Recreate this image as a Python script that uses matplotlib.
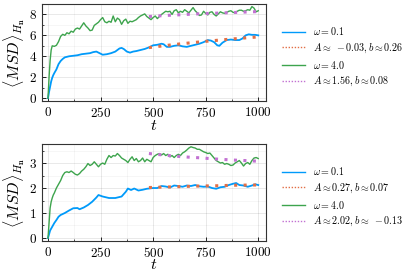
import matplotlib
matplotlib.use('agg')
import matplotlib.pyplot as plt
from matplotlib.ticker import AutoMinorLocator

plt.rcParams['font.family'] = 'serif'
plt.rcParams['font.serif'] = ['cmr10']
plt.rcParams['mathtext.fontset'] = 'cm'
plt.rcParams['axes.formatter.use_mathtext'] = True

# --- datos ---
t_verde_arriba = [0, 5, 10, 15, 20, 30, 40, 50, 60, 70, 80, 90, 100, 110, 120, 130, 140, 150,
                  160, 170, 180, 190, 200, 210, 220, 230, 240, 250, 260, 270, 280, 290, 300,
                  310, 320, 330, 340, 350, 360, 370, 380, 390, 400, 410, 420, 430, 440, 450,
                  460, 470, 480, 490, 500, 510, 520, 530, 540, 550, 560, 570, 580, 590, 600,
                  610, 620, 630, 640, 650, 660, 670, 680, 690, 700, 710, 720, 730, 740, 750,
                  760, 770, 780, 790, 800, 810, 820, 830, 840, 850, 860, 870, 880, 890, 900,
                  910, 920, 930, 940, 950, 960, 970, 980, 990, 1000]
msd_verde_arriba = [0.0, 2.0, 3.6, 4.6, 5.0, 4.95, 5.05, 5.4, 5.9, 6.1, 6.0, 6.25, 6.15, 6.4,
                    6.3, 6.6, 6.7, 6.6, 6.9, 7.2, 6.9, 6.7, 6.45, 6.5, 6.95, 7.1, 7.25, 7.5,
                    7.7, 7.3, 7.2, 7.35, 7.25, 7.85, 7.3, 7.65, 7.5, 7.05, 7.4, 7.55, 7.15,
                    7.35, 7.3, 7.4, 7.5, 7.7, 7.85, 7.95, 8.05, 7.8, 7.65, 7.5, 7.7, 7.85, 7.6,
                    7.8, 8.0, 8.15, 8.3, 8.25, 8.3, 8.0, 8.35, 8.45, 8.15, 8.3, 8.2, 8.45, 8.3,
                    8.15, 8.4, 8.65, 8.35, 8.15, 7.9, 7.95, 8.3, 8.1, 7.95, 8.2, 8.25, 8.0,
                    7.85, 8.05, 8.25, 8.15, 8.1, 8.2, 8.3, 8.35, 8.2, 8.15, 8.3, 8.4, 8.4, 8.3,
                    8.35, 8.45, 8.4, 8.75, 8.6, 8.25, 8.35]

t_azul_arriba = [0, 5, 10, 15, 20, 25, 30, 40, 50, 60, 70, 80, 90, 100, 120, 140, 160, 180,
                 200, 215, 230, 245, 260, 280, 300, 320, 340, 350, 360, 375, 390, 405, 420,
                 440, 460, 480, 500, 520, 540, 550, 565, 580, 600, 620, 640, 660, 680, 700,
                 720, 740, 760, 775, 790, 805, 815, 830, 850, 870, 890, 910, 925, 940, 955,
                 970, 985, 1000]
msd_azul_arriba = [0.0, 0.6, 1.1, 1.6, 1.95, 2.2, 2.4, 2.75, 3.25, 3.55, 3.75, 3.9, 3.95, 4.0,
                   4.05, 4.1, 4.2, 4.25, 4.3, 4.4, 4.45, 4.3, 4.15, 4.2, 4.3, 4.45, 4.75, 4.8,
                   4.7, 4.45, 4.35, 4.45, 4.5, 4.6, 4.7, 4.85, 5.05, 5.1, 5.2, 5.15, 4.9, 4.9,
                   5.0, 5.05, 4.95, 4.9, 5.0, 5.1, 5.2, 5.35, 5.55, 5.5, 5.35, 5.05, 5.0, 5.3,
                   5.55, 5.6, 5.55, 5.55, 5.7, 6.0, 6.1, 6.05, 6.05, 6.0]

t_verde_abajo = [0, 5, 10, 15, 20, 25, 30, 40, 50, 60, 70, 80, 90, 100, 110, 120, 130, 140,
                 150, 160, 170, 180, 190, 200, 210, 220, 230, 240, 250, 260, 270, 280, 290,
                 300, 310, 320, 330, 340, 350, 360, 370, 380, 390, 400, 410, 420, 430, 440,
                 450, 460, 470, 480, 490, 500, 510, 520, 530, 540, 550, 560, 570, 580, 590,
                 600, 610, 620, 630, 640, 650, 660, 670, 680, 690, 700, 710, 720, 730, 740,
                 750, 760, 770, 780, 790, 800, 810, 820, 830, 840, 850, 860, 870, 880, 890,
                 900, 910, 920, 930, 940, 950, 960, 970, 980, 990, 1000]
msd_verde_abajo = [0.0, 0.6, 1.2, 1.45, 1.6, 1.72, 1.8, 2.0, 2.15, 2.3, 2.5, 2.62, 2.65, 2.62,
                   2.68, 2.62, 2.55, 2.52, 2.58, 2.68, 2.75, 2.85, 2.98, 2.9, 2.95, 3.05, 2.95,
                   2.85, 2.95, 3.0, 2.95, 3.15, 3.3, 3.22, 3.3, 3.28, 3.38, 3.3, 3.2, 3.15,
                   3.1, 3.02, 3.15, 3.25, 3.1, 3.18, 3.05, 3.1, 3.2, 3.05, 3.15, 3.1, 3.05,
                   3.22, 3.3, 3.35, 3.38, 3.32, 3.38, 3.3, 3.35, 3.25, 3.3, 3.22, 3.3, 3.35,
                   3.3, 3.4, 3.45, 3.52, 3.6, 3.65, 3.62, 3.6, 3.55, 3.55, 3.5, 3.45, 3.42,
                   3.38, 3.4, 3.3, 3.2, 3.1, 3.05, 3.0, 3.02, 2.95, 2.98, 2.95, 2.9, 2.92, 3.0,
                   3.05, 3.1, 3.0, 2.88, 2.98, 3.02, 2.95, 3.1, 3.2, 3.22, 3.18]

t_azul_abajo = [0, 10, 20, 30, 40, 50, 60, 80, 100, 120, 140, 150, 170, 190, 210, 230, 240,
                260, 290, 320, 350, 370, 380, 395, 410, 430, 450, 470, 500, 520, 540, 560,
                580, 600, 620, 640, 660, 680, 700, 720, 740, 760, 780, 800, 820, 840, 860,
                880, 895, 910, 930, 950, 970, 985, 1000]
msd_azul_abajo = [0.0, 0.3, 0.45, 0.6, 0.72, 0.85, 0.92, 1.0, 1.1, 1.19, 1.2, 1.15, 1.22,
                  1.32, 1.45, 1.62, 1.72, 1.66, 1.6, 1.6, 1.66, 1.85, 1.98, 1.92, 1.98, 1.9,
                  1.93, 1.97, 2.0, 2.0, 2.08, 2.06, 2.02, 2.1, 2.08, 2.05, 2.1, 2.08, 2.12,
                  2.07, 2.05, 2.06, 2.0, 1.97, 2.03, 2.05, 2.12, 2.17, 2.2, 2.12, 2.1, 2.05,
                  2.1, 2.15, 2.12]

# ajustes (curvas punteadas)
t_ajuste = [480, 560, 640, 720, 800, 880, 960, 1000]
ajuste_azul_arriba = [4.83, 5.03, 5.21, 5.37, 5.52, 5.66, 5.79, 5.85]
ajuste_verde_arriba = [7.80, 7.90, 7.98, 8.06, 8.12, 8.18, 8.24, 8.27]
ajuste_azul_abajo = [2.02, 2.04, 2.06, 2.08, 2.09, 2.11, 2.12, 2.12]
ajuste_verde_abajo = [3.38, 3.31, 3.25, 3.21, 3.16, 3.12, 3.09, 3.07]

etiquetas_arriba = [r'$\omega = 0.1$', r'$A \approx\ -0.03, b \approx 0.26$',
                    r'$\omega = 4.0$', r'$A \approx 1.56, b \approx 0.08$']
etiquetas_abajo = [r'$\omega = 0.1$', r'$A \approx 0.27, b \approx 0.07$',
                   r'$\omega = 4.0$', r'$A \approx 2.02, b \approx\ -0.13$']

AZUL = '#009AFA'
NARANJA = '#E26F46'
VERDE = '#3DA44D'
MORADO = '#C271D2'

fig = plt.figure(figsize=(4.15, 2.77), dpi=100)
ax1 = fig.add_axes([0.1005, 0.635, 0.540, 0.350])
ax2 = fig.add_axes([0.1005, 0.130, 0.540, 0.350])

paneles = [
    (ax1, t_azul_arriba, msd_azul_arriba, ajuste_azul_arriba, t_verde_arriba, msd_verde_arriba,
     ajuste_verde_arriba, etiquetas_arriba, (-0.28, 8.98), [0, 2, 4, 6, 8], 1 - 25 / 277),
    (ax2, t_azul_abajo, msd_azul_abajo, ajuste_azul_abajo, t_verde_abajo, msd_verde_abajo,
     ajuste_verde_abajo, etiquetas_abajo, (-0.12, 3.76), [0, 1, 2, 3], 1 - 165 / 277),
]

for ax, ta, ya, fa, tv, yv, fv, etiquetas, ylim, yticks, ley_y in paneles:
    l1, = ax.plot(ta, ya, color=AZUL, lw=1.3, label=etiquetas[0])
    l2, = ax.plot(t_ajuste, fa, color=NARANJA, lw=2.2, dashes=(1, 2.1), label=etiquetas[1])
    l3, = ax.plot(tv, yv, color=VERDE, lw=1.0, label=etiquetas[2])
    l4, = ax.plot(t_ajuste, fv, color=MORADO, lw=2.2, dashes=(1, 2.1), label=etiquetas[3])
    # orden de dibujo: ajustes encima
    l2.set_zorder(3)
    l4.set_zorder(3)

    ax.set_xlim(-30, 1036)
    ax.set_ylim(*ylim)
    ax.set_xticks([0, 250, 500, 750, 1000])
    ax.set_yticks(yticks)
    ax.xaxis.set_minor_locator(AutoMinorLocator(2))
    ax.yaxis.set_minor_locator(AutoMinorLocator(2))
    ax.grid(True, which='major', color='#000000', alpha=0.1, lw=0.6)
    ax.grid(True, which='minor', color='#000000', alpha=0.05, lw=0.5)
    ax.tick_params(which='both', direction='in', labelsize=9.5, top=False, right=False)
    ax.tick_params(which='major', length=3, width=0.6)
    ax.tick_params(which='minor', length=1.5, width=0.5)
    for s in ax.spines.values():
        s.set_color('#333333')
        s.set_linewidth(0.8)
    ax.set_xlabel(r'$t$', fontsize=11.5, labelpad=-1)
    ax.set_ylabel(r'$\langle MSD\rangle_{H_{\mathbf{n}}}$', fontsize=11.5, labelpad=1)

    ley = ax.legend(handles=[l1, l2, l3, l4], loc='upper left',
                    bbox_to_anchor=(0.68, ley_y), bbox_transform=fig.transFigure,
                    frameon=False, fontsize=7.2, handlelength=2.3, handletextpad=0.8,
                    labelspacing=0.42, borderaxespad=0, borderpad=0)
    for h in ley.legend_handles:
        h.set_linewidth(1.0)
    ley.legend_handles[1].set_dashes((1, 1.2))
    ley.legend_handles[3].set_dashes((1, 1.2))

plt.savefig('out.png', dpi=100)
plt.close()
